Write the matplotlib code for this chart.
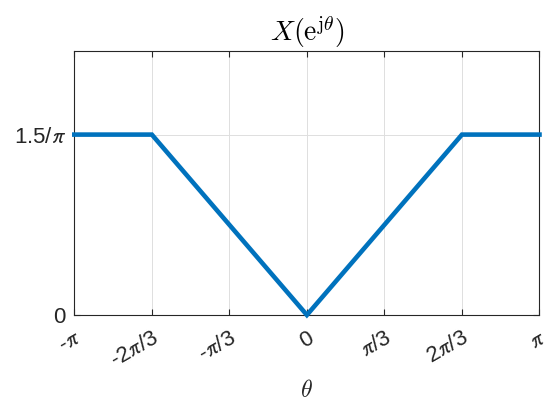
import numpy as np
import matplotlib
matplotlib.use("Agg")
import matplotlib.pyplot as plt
from matplotlib.transforms import ScaledTranslation

plt.rcParams['font.family'] = ['Liberation Sans', 'DejaVu Sans']
plt.rcParams['mathtext.fontset'] = 'cm'

# Spectrum breakpoints (theta in radians, magnitude)
theta = [-np.pi, -2*np.pi/3, 0.0, 2*np.pi/3, np.pi]
mag = [1.5/np.pi, 1.5/np.pi, 0.0, 1.5/np.pi, 1.5/np.pi]

xtick_vals = [-np.pi, -2*np.pi/3, -np.pi/3, 0, np.pi/3, 2*np.pi/3, np.pi]
xtick_labels = [r'-$\pi$', r'-2$\pi$/3', r'-$\pi$/3', '0', r'$\pi$/3', r'2$\pi$/3', r'$\pi$']
ytick_vals = [0, 1.5/np.pi]
ytick_labels = ['0', r'1.5/$\pi$']

fg = '#262626'
fig = plt.figure(figsize=(5.5, 4.05), dpi=100)
ax = fig.add_axes([0.1351, 0.2222, 0.8458, 0.6531])

ax.plot(theta, mag, color='#0072BD', lw=3.3, solid_joinstyle='miter', clip_on=False, zorder=3)

ax.set_xlim(-np.pi, np.pi)
ax.set_ylim(0, 0.7)
ax.set_xticks(xtick_vals)
ax.set_xticklabels(xtick_labels, rotation=30, ha='right', va='top',
                   rotation_mode='anchor', fontsize=16, color=fg)
ax.set_yticks(ytick_vals)
ax.set_yticklabels(ytick_labels, fontsize=16, color=fg)

shift = ScaledTranslation(5/100, 0, fig.dpi_scale_trans)
for lbl in ax.get_xticklabels():
    lbl.set_math_fontfamily('stixsans')
    lbl.set_transform(lbl.get_transform() + shift)
for lbl in ax.get_yticklabels():
    lbl.set_math_fontfamily('stixsans')

ax.tick_params(direction='in', length=4.5, width=0.8, color=fg,
               top=True, right=True)
ax.tick_params(axis='x', pad=9)
ax.tick_params(axis='y', pad=6)
for s in ax.spines.values():
    s.set_color(fg)
    s.set_linewidth(0.8)

ax.grid(True, color='#dedede', lw=0.7)
ax.set_axisbelow(True)

ax.set_title(r'$X(\mathrm{e}^{\mathrm{j}\theta})$', fontsize=20, color='black', pad=7)
ax.set_xlabel(r'$\theta$', fontsize=17, color=fg, labelpad=6)

fig.savefig('out.png', dpi=100)
